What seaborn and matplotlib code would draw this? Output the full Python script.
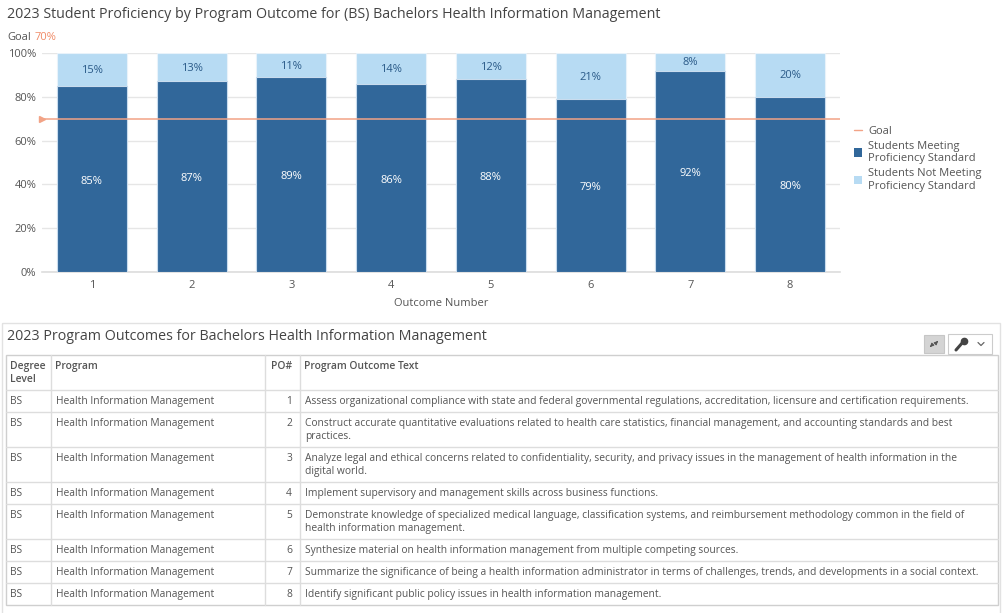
import matplotlib
matplotlib.use("Agg")
import matplotlib.pyplot as plt
import seaborn as sns
from matplotlib.lines import Line2D
from matplotlib.patches import Patch, Rectangle

# chart data
outcomes = ["1", "2", "3", "4", "5", "6", "7", "8"]
meeting = [85, 87, 89, 86, 88, 79, 92, 80]
not_meeting = [15, 13, 11, 14, 12, 21, 8, 20]
goal = 70

# table data
degree_level = ["BS"] * 8
program = ["Health Information Management"] * 8
po_number = [1, 2, 3, 4, 5, 6, 7, 8]
outcome_text = [
    "Assess organizational compliance with state and federal governmental regulations, accreditation, licensure and certification requirements.",
    "Construct accurate quantitative evaluations related to health care statistics, financial management, and accounting standards and best\npractices.",
    "Analyze legal and ethical concerns related to confidentiality, security, and privacy issues in the management of health information in the\ndigital world.",
    "Implement supervisory and management skills across business functions.",
    "Demonstrate knowledge of specialized medical language, classification systems, and reimbursement methodology common in the field of\nhealth information management.",
    "Synthesize material on health information management from multiple competing sources.",
    "Summarize the significance of being a health information administrator in terms of challenges, trends, and developments in a social context.",
    "Identify significant public policy issues in health information management.",
]
headers = ["Degree\nLevel", "Program", "PO#", "Program Outcome Text"]

DARK = "#31679a"
LIGHT = "#b7dbf3"
GOAL_C = "#f2a386"
TXT = "#555555"

sns.set_theme(style="white")
plt.rcParams["font.family"] = ["Open Sans", "DejaVu Sans"]

W, H = 1005, 613
fig = plt.figure(figsize=(W / 100, H / 100), dpi=100)


def fx(px):
    return px / W


def fy(py):
    return 1 - py / H


# titles
fig.text(fx(7), fy(15), "2023 Student Proficiency by Program Outcome for (BS) Bachelors Health Information Management",
         fontsize=10.3, color="#444444", va="center", ha="left")
fig.text(fx(7), fy(37), "Goal", fontsize=8, color=TXT, va="center")
fig.text(fx(35), fy(37), f"{goal}%", fontsize=8, color="#f08a66", va="center")

# bar chart
ax = fig.add_axes([fx(42), fy(272), fx(840) - fx(42), fy(53) - fy(272)])
totals = [m + n for m, n in zip(meeting, not_meeting)]
sns.barplot(x=outcomes, y=totals, color=LIGHT, saturation=1, width=0.7,
            edgecolor="#e8f2fa", linewidth=0.8, ax=ax, zorder=2)
sns.barplot(x=outcomes, y=meeting, color=DARK, saturation=1, width=0.7,
            edgecolor="#c9dcee", linewidth=0.8, ax=ax, zorder=3)

for i, (m, n) in enumerate(zip(meeting, not_meeting)):
    ax.text(i, m / 2 - 1, f"{m}%", ha="center", va="center", fontsize=8, color="white", zorder=5)
    ax.text(i, m + n / 2 - 0.5, f"{n}%", ha="center", va="center", fontsize=8, color="#2a5a88", zorder=5)

ax.axhline(goal, color=GOAL_C, lw=1.1, zorder=4)
ax.plot([-0.5], [goal], marker=">", ms=4, color=GOAL_C, clip_on=False, zorder=6)

ax.set_ylim(0, 100)
ax.set_xlim(-0.5, len(outcomes) - 0.5)
ax.set_yticks([0, 20, 40, 60, 80, 100])
ax.set_yticklabels([f"{v}%" for v in [0, 20, 40, 60, 80, 100]])
ax.yaxis.grid(True, color="#e6e6e6", lw=1)
ax.set_axisbelow(True)
ax.tick_params(axis="both", length=0, labelsize=8, colors=TXT)
ax.tick_params(axis="y", pad=4)
ax.tick_params(axis="x", pad=6)
for s in ["top", "right", "left"]:
    ax.spines[s].set_visible(False)
ax.spines["bottom"].set_color("#dddddd")
ax.spines["bottom"].set_linewidth(1.2)
ax.set_xlabel("Outcome Number", fontsize=8, color=TXT, labelpad=5)
ax.set_ylabel("")

handles = [
    Line2D([0], [0], color=GOAL_C, lw=1),
    Patch(facecolor=DARK, edgecolor="none"),
    Patch(facecolor=LIGHT, edgecolor="none"),
]
labels = ["Goal", "Students Meeting\nProficiency Standard", "Students Not Meeting\nProficiency Standard"]
fig.legend(handles, labels, loc="upper left", bbox_to_anchor=(fx(848), fy(120)), frameon=False,
           fontsize=8, labelcolor=TXT, handlelength=0.8, handleheight=0.8, handletextpad=0.5,
           labelspacing=0.35, borderpad=0)

# table panel
tab = fig.add_axes([0, 0, 1, 1])
tab.set_xlim(0, W)
tab.set_ylim(H, 0)
tab.axis("off")
tab.patch.set_alpha(0)

tab.add_patch(Rectangle((2, 323), 998, 292, fill=False, edgecolor="#e2e2e2", lw=1))
tab.text(7, 337, "2023 Program Outcomes for Bachelors Health Information Management",
         fontsize=10.3, color="#444444", va="center", ha="left")

# buttons
tab.add_patch(Rectangle((924, 335), 20, 18, facecolor="#d4d4d4", edgecolor="#c6c6c6", lw=0.8))
tab.annotate("", xy=(940, 339), xytext=(935, 344), arrowprops=dict(arrowstyle="-|>", color="#555555", lw=0.8, mutation_scale=5))
tab.annotate("", xy=(928, 349), xytext=(933, 344), arrowprops=dict(arrowstyle="-|>", color="#555555", lw=0.8, mutation_scale=5))
tab.add_patch(Rectangle((948, 334), 44, 20, facecolor="white", edgecolor="#cccccc", lw=0.8))
tab.plot([956, 963], [350, 342], color="#444444", lw=2.2, solid_capstyle="round")
tab.plot([964], [341], marker="o", ms=4.5, color="#444444")
tab.plot([978, 981, 984], [342.5, 345.5, 342.5], color="#666666", lw=0.9)

col_x = [6, 51, 265, 300, 998]
top = 355
header_h = 35
line_h = 13
base_h = 22
FS = 7.4

row_heights = [base_h + line_h * t.count("\n") for t in outcome_text]
row_tops = []
y = top + header_h
for h in row_heights:
    row_tops.append(y)
    y += h
bottom = y

# grid lines
tab.add_patch(Rectangle((col_x[0], top), col_x[-1] - col_x[0], bottom - top, fill=False, edgecolor="#cfcfcf", lw=1))
for cx in col_x[1:-1]:
    tab.plot([cx, cx], [top, bottom], color="#dddddd", lw=1)
for ry in row_tops:
    tab.plot([col_x[0], col_x[-1]], [ry, ry], color="#dddddd", lw=1)

# headers
for i, htxt in enumerate(headers):
    if i == 2:
        tab.text(col_x[3] - 8, top + 6, htxt, fontsize=FS, fontweight="semibold", color=TXT,
                 ha="right", va="top", linespacing=1.25)
    else:
        tab.text(col_x[i] + 4, top + 6, htxt, fontsize=FS, fontweight="semibold", color=TXT,
                 ha="left", va="top", linespacing=1.25)

# rows
for r in range(len(outcome_text)):
    ty = row_tops[r] + 6
    tab.text(col_x[0] + 4, ty, degree_level[r], fontsize=FS, color=TXT, va="top")
    tab.text(col_x[1] + 5, ty, program[r], fontsize=FS, color=TXT, va="top")
    tab.text(col_x[3] - 8, ty, str(po_number[r]), fontsize=FS, color=TXT, va="top", ha="right")
    tab.text(col_x[3] + 5, ty, outcome_text[r], fontsize=FS, color=TXT, va="top", linespacing=1.2)

fig.savefig("out.png", dpi=100)
